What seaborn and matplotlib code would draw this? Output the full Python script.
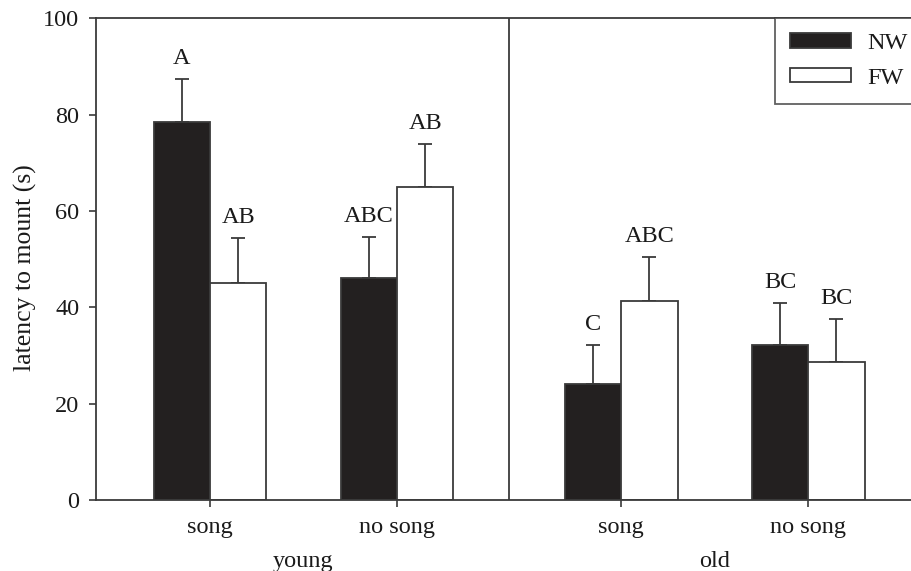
import matplotlib
matplotlib.use("Agg")
import matplotlib.pyplot as plt
import seaborn as sns
import pandas as pd
import numpy as np

# ---- data ----
ages = ["young", "young", "old", "old"]
conditions = ["song", "no song", "song", "no song"]
positions = [1.0, 2.0, 3.2, 4.2]
nw_mean = [78.4, 46.0, 24.0, 32.2]
nw_err = [9.0, 8.6, 8.2, 8.7]
fw_mean = [45.0, 65.0, 41.3, 28.7]
fw_err = [9.4, 8.9, 9.2, 8.9]
nw_letters = ["A", "ABC", "C", "BC"]
fw_letters = ["AB", "AB", "ABC", "BC"]
group_names = ["young", "old"]

sns.set_theme(style="white")
plt.rcParams["font.family"] = ["Liberation Serif", "DejaVu Serif"]

line_col = "#3a3a3a"
txt_col = "#1a1a1a"
FS = 17.5

rows = []
for i in range(4):
    rows.append(dict(pos=positions[i], treat="NW", latency=nw_mean[i], err=nw_err[i], letter=nw_letters[i]))
    rows.append(dict(pos=positions[i], treat="FW", latency=fw_mean[i], err=fw_err[i], letter=fw_letters[i]))
df = pd.DataFrame(rows)

fig = plt.figure(figsize=(9.11, 5.71), dpi=100)
ax = fig.add_axes([0.1054, 0.1243, 0.8946, 0.8437])

sns.barplot(data=df, x="pos", y="latency", hue="treat", hue_order=["NW", "FW"],
            native_scale=True, palette={"NW": "#231f20", "FW": "white"},
            edgecolor=line_col, linewidth=1.3, width=0.604, errorbar=None,
            ax=ax, zorder=2)

lookup = {(r.treat, round(r.pos, 2)): r for r in df.itertuples()}
for cont, treat in zip(ax.containers, ["NW", "FW"]):
    for bar in cont:
        xc = bar.get_x() + bar.get_width() / 2
        best = min((k for k in lookup if k[0] == treat), key=lambda k: abs(k[1] - xc))
        r = lookup[best]
        ax.errorbar(xc, r.latency, yerr=[[0], [r.err]], fmt="none",
                    ecolor=line_col, elinewidth=1.3, capsize=5, capthick=1.3, zorder=1)
        ax.text(xc, r.latency + r.err + 2.0, r.letter, ha="center", va="bottom",
                fontsize=FS, color=txt_col)

ax.set_xlim(0.39, 4.75)
ax.set_ylim(0, 100)
ax.axvline(2.60, color=line_col, lw=1.3, zorder=0)

ax.set_xticks(positions)
ax.set_xticklabels(conditions, fontsize=FS, color=txt_col)
ax.set_yticks([0, 20, 40, 60, 80, 100])
ax.set_yticklabels(["0", "20", "40", "60", "80", "100"], fontsize=FS, color=txt_col)
ax.tick_params(axis="both", direction="out", length=5, width=1.2, color=line_col,
               bottom=True, left=True, pad=7)
ax.set_xlabel("")
ax.set_ylabel("latency to mount (s)", fontsize=18.5, color=txt_col)
ax.yaxis.set_label_coords(-0.072, 0.483)

for s in ["left", "bottom", "top"]:
    ax.spines[s].set_color(line_col)
    ax.spines[s].set_linewidth(1.3)
ax.spines["right"].set_visible(False)

trans = matplotlib.transforms.blended_transform_factory(ax.transData, ax.transAxes)
for g, (a, b) in zip(group_names, [(0, 1), (2, 3)]):
    ax.text((positions[a] + positions[b]) / 2, -0.128, g, transform=trans,
            ha="center", va="center", fontsize=FS, color=txt_col)

leg = ax.legend(loc="upper left", bbox_to_anchor=(0.833, 1.0), borderaxespad=0,
                fontsize=FS, frameon=True, fancybox=False, handlelength=2.5,
                handleheight=0.54, labelspacing=0.55, borderpad=0.62, handletextpad=0.7)
leg.get_frame().set_edgecolor(line_col)
leg.get_frame().set_linewidth(1.3)
for t in leg.get_texts():
    t.set_color(txt_col)

fig.savefig("out.png", dpi=100)
